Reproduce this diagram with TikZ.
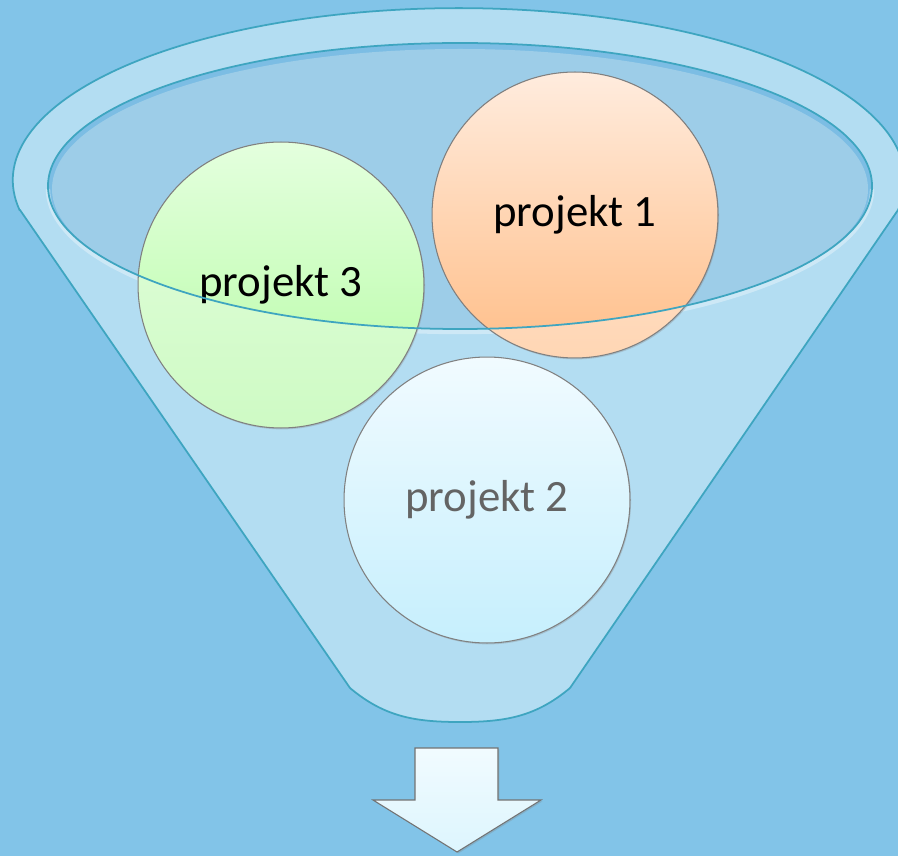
\documentclass[tikz,border=0pt]{standalone}
\usepackage{fontspec}
\setmainfont{Carlito}
\usetikzlibrary{positioning, shadows}
\definecolor{skyblue}{RGB}{130,196,232}
\definecolor{funnelfill}{RGB}{179,221,242}
\definecolor{funnelinner}{RGB}{157,205,232}
\definecolor{funnelshade}{RGB}{124,189,228}
\definecolor{funnelline}{RGB}{62,165,192}
\definecolor{greentop}{RGB}{228,255,222}
\definecolor{greenlow}{RGB}{206,250,196}
\definecolor{greendeep}{RGB}{180,252,162}
\definecolor{orangetop}{RGB}{255,236,222}
\definecolor{orangelow}{RGB}{255,214,180}
\definecolor{orangedeep}{RGB}{255,190,136}
\definecolor{cyantop}{RGB}{241,251,255}
\definecolor{cyanlow}{RGB}{198,239,253}
\definecolor{textgray}{RGB}{100,100,100}

\begin{document}
\begin{tikzpicture}[
        x=0.02cm, y=0.02cm,
        funnelbody/.style={draw=funnelline, line width=1pt, fill=funnelfill},
        rimline/.style={draw=funnelline, line width=1pt},
        bubble/.style={circle, draw=gray, line width=0.6pt, minimum size=5.72cm, inner sep=0pt, font=\fontsize{25.5}{30}\selectfont, drop shadow={shadow xshift=0.6pt, shadow yshift=-0.8pt, opacity=0.3}},
        deepinside/.style 2 args={path picture={
            \clip (rimc) ellipse [x radius=412, y radius=143];
            \fill[top color=#1, bottom color=#2] (path picture bounding box.south west) rectangle (path picture bounding box.north east);
        }},
        blockarrow/.style={draw=gray!90!black, line width=0.6pt, top color=cyantop, bottom color=cyanlow!60, drop shadow={shadow xshift=0.8pt, shadow yshift=-0.8pt, opacity=0.3}}
    ]
        \useasboundingbox (0,0) rectangle (898,856);
        \fill[skyblue] (0,0) rectangle (898,856);

        % funnel body and rim
        \coordinate (rimc) at (460,670);
        \draw[funnelbody] (20,646) -- (350,168) to[out=-40,in=180] (460,134) to[out=0,in=-140] (570,168) -- (898,646)
            arc[start angle=-10, end angle=190, x radius=446, y radius=172] -- cycle;
        \fill[funnelshade] (rimc) ellipse [x radius=412, y radius=143];
        \fill[funnelinner] (460,667) ellipse [x radius=408, y radius=140];
        \draw[white, opacity=0.35, line width=2.5pt] (460,667) ++(-412,0) arc[start angle=180, end angle=360, x radius=412, y radius=143];

        % bubbles
        \node[bubble, top color=greentop, bottom color=greenlow, deepinside={greentop}{greendeep}] (proj3) at (281,571) {projekt 3};
        \node[bubble, top color=orangetop, bottom color=orangelow, deepinside={orangetop}{orangedeep}] (proj1) at (575,641) {projekt 1};
        \node[bubble, top color=cyantop, bottom color=cyanlow, text=textgray] (proj2) at (487,356) {projekt 2};

        \draw[rimline] (rimc) ellipse [x radius=412, y radius=143];

        % output arrow
        \draw[blockarrow] (415,108) -- (498,108) -- (498,56) -- (541,56) -- (457,4) -- (373,56) -- (415,56) -- cycle;
    \end{tikzpicture}
\end{document}
